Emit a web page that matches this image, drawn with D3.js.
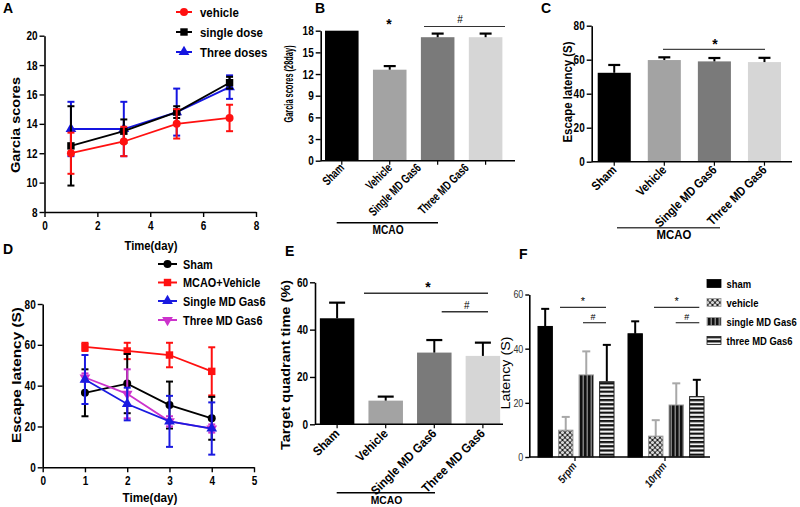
<!DOCTYPE html>
<html><head><meta charset="utf-8">
<script src="https://cdn.jsdelivr.net/npm/d3@7"></script>
<style>
body{margin:0;background:#fff}
svg{font-family:"Liberation Sans",Arial,sans-serif;font-weight:bold}
</style></head><body>
<svg id="c" width="800" height="507"></svg>
<script>
// ---------- DATA ----------
// Panel A
const daysA = [1, 3, 5, 7];
const aVehicle = [12.0, 12.8, 14.0, 14.4];
const aVehicleErr = [1.4, 1.0, 1.0, 0.9];
const aSingle = [12.5, 13.5, 14.8, 16.8];
const aSingleErr = [2.7, 0.8, 0.4, 0.4];
const aThree = [13.65, 13.65, 14.8, 16.5];
const aThreeErr = [1.85, 1.85, 1.6, 0.8];
const aXTicks = [0, 2, 4, 6, 8];
const aYTicks = [8, 10, 12, 14, 16, 18, 20];
const aLegend = ["vehicle", "single dose", "Three doses"];

// Panel B
const groupCats = ["Sham", "Vehicle", "Single MD Gas6", "Three MD Gas6"];
const bVals = [18, 12.6, 17.1, 17.1];
const bErr = [0, 0.5, 0.5, 0.5];
const bYTicks = [0, 3, 6, 9, 12, 15, 18];

// Panel C
const cVals = [52.3, 59.8, 59.0, 58.6];
const cErr = [4.6, 1.6, 2.0, 2.5];
const cYTicks = [0, 20, 40, 60, 80];

// Panel D
const daysD = [1, 2, 3, 4];
const dSham = [36.5, 41, 30.5, 24];
const dShamErr = [11.5, 14.5, 11.5, 10.5];
const dVehicle = [59, 57, 55, 47];
const dVehicleErr = [2, 4, 6, 11.8];
const dSingle = [43, 31, 22.5, 19];
const dSingleErr = [12, 8, 12.5, 12.8];
const dThree = [44, 36, 22.5, 19];
const dThreeErr = [2, 12, 2.5, 2];
const dXTicks = [0, 1, 2, 3, 4, 5];
const dYTicks = [0, 20, 40, 60, 80];
const dLegend = ["Sham", "MCAO+Vehicle", "Single MD Gas6", "Three MD Gas6"];

// Panel E
const eVals = [44.8, 10.0, 30.3, 28.9];
const eErr = [6.6, 1.7, 5.3, 5.6];
const eYTicks = [0, 20, 40, 60];

// Panel F
const fGroups = ["5rpm", "10rpm"];
const fSeries = ["sham", "vehicle", "single MD Gas6", "three MD Gas6"];
const fVals = [[48.2, 9.9, 30.3, 27.8], [45.5, 7.7, 19.2, 22.3]];
const fErr = [[6.5, 4.9, 8.7, 13.6], [4.6, 5.9, 8.0, 6.2]];
const fYTicks = [0, 20, 40, 60];

// ---------- DRAW ----------
const svg = d3.select("#c");
const defs = svg.append("defs");

function txt(s, x, y, fs, opt) {
  opt = opt || {};
  const t = svg.append("text").text(s).attr("font-size", fs)
    .attr("text-anchor", opt.anchor || "middle")
    .attr("font-weight", opt.weight || "bold")
    .attr("fill", opt.fill || "#000")
    .attr("transform", `translate(${x},${y}) rotate(${opt.rot || 0}) scale(${opt.sx || 1},1)`);
  if (opt.len) t.attr("textLength", opt.len).attr("lengthAdjust", "spacingAndGlyphs");
  if (opt.italic) t.attr("font-style", "italic");
  return t;
}
function styleAxis(g, fs, sx, weight, color, left) {
  g.attr("font-family", null).attr("font-size", null);
  g.selectAll(".domain").attr("stroke", "#000").attr("stroke-width", 1.6);
  g.selectAll(".tick line").attr("stroke", "#000").attr("stroke-width", 1.4);
  g.selectAll(".tick text").attr("font-size", fs).attr("font-weight", weight || "bold")
    .attr("fill", color || "#000")
    .each(function () {
      const el = d3.select(this);
      if (left) { const x = +el.attr("x"); el.attr("x", x / sx); }
      el.attr("transform", `scale(${sx},1)`);
    });
}
function panelLetter(t, x, y) {
  svg.append("text").text(t).attr("x", x).attr("y", y).attr("font-size", 14).attr("font-weight", "bold");
}
const sym = {
  circle: d3.symbol().type(d3.symbolCircle).size(50)(),
  square: d3.symbol().type(d3.symbolSquare).size(55)(),
  tri: d3.symbol().type(d3.symbolTriangle).size(50)(),
  triDown: d3.symbol().type(d3.symbolTriangle).size(50)()
};
function lineSeries(xs, ys, es, x, y, color, shape, capW) {
  const g = svg.append("g");
  xs.forEach((d, i) => {
    const cx = x(d), y1 = y(ys[i] - es[i]), y2 = y(ys[i] + es[i]);
    g.append("line").attr("x1", cx).attr("x2", cx).attr("y1", y1).attr("y2", y2)
      .attr("stroke", color).attr("stroke-width", 2);
    [y1, y2].forEach(yy => g.append("line").attr("x1", cx - capW).attr("x2", cx + capW)
      .attr("y1", yy).attr("y2", yy).attr("stroke", color).attr("stroke-width", 2));
  });
  g.append("path").datum(xs.map((d, i) => [d, ys[i]]))
    .attr("d", d3.line().x(d => x(d[0])).y(d => y(d[1])))
    .attr("fill", "none").attr("stroke", color).attr("stroke-width", 1.8);
  xs.forEach((d, i) => {
    g.append("path").attr("d", sym[shape]).attr("fill", color)
      .attr("transform", `translate(${x(d)},${y(ys[i])})${shape === "triDown" ? " rotate(180)" : ""}`);
  });
}
function legendItem(x0, x1, yy, color, shape, s, tx, fs, sx) {
  svg.append("line").attr("x1", x0).attr("x2", x1).attr("y1", yy).attr("y2", yy)
    .attr("stroke", color).attr("stroke-width", 2);
  svg.append("path").attr("d", sym[shape]).attr("fill", color)
    .attr("transform", `translate(${(x0 + x1) / 2},${yy})${shape === "triDown" ? " rotate(180)" : ""}`);
  txt(s, tx, yy + 4.5, fs, { anchor: "start", sx: sx });
}
function hline(x1, x2, y, col, w) {
  svg.append("line").attr("x1", x1).attr("x2", x2).attr("y1", y).attr("y2", y)
    .attr("stroke", col || "#000").attr("stroke-width", w || 1.4);
}

// ===== Panel A =====
panelLetter("A", 3, 13);
const xA = d3.scaleLinear().domain([0, 8]).range([44.5, 256]);
const yA = d3.scaleLinear().domain([8, 20]).range([212, 35.7]);
styleAxis(svg.append("g").attr("transform", "translate(0,212)")
  .call(d3.axisBottom(xA).tickValues(aXTicks).tickSize(5).tickSizeOuter(0).tickPadding(4)), 12.5, 0.8);
styleAxis(svg.append("g").attr("transform", "translate(44.5,0)")
  .call(d3.axisLeft(yA).tickValues(aYTicks).tickSize(5).tickSizeOuter(0).tickPadding(2)), 12.5, 0.8, null, null, true);
txt("Garcia scores", 20, 125, 13, { rot: -90, len: 96 });
txt("Time(day)", 151, 250, 13, { len: 53 });
lineSeries(daysA, aThree, aThreeErr, xA, yA, "#1515e0", "tri", 3.5);
lineSeries(daysA, aSingle, aSingleErr, xA, yA, "#000", "square", 3.5);
lineSeries(daysA, aVehicle, aVehicleErr, xA, yA, "#ff1010", "circle", 3.5);
legendItem(176, 192, 12, "#ff1010", "circle", aLegend[0], 200, 13, 0.88);
legendItem(176, 192, 32, "#000", "square", aLegend[1], 200, 13, 0.88);
legendItem(176, 192, 52, "#1515e0", "tri", aLegend[2], 200, 13, 0.88);

// ===== Bar panel helper =====
function barPanel(o) {
  const x = d3.scaleBand().domain(o.cats).range(o.xRange).paddingInner(o.pi).paddingOuter(o.po);
  const y = d3.scaleLinear().domain(o.yDomain).range(o.yRange);
  const g = svg.append("g");
  o.cats.forEach((c, i) => {
    g.append("rect").attr("x", x(c)).attr("width", x.bandwidth())
      .attr("y", y(o.vals[i])).attr("height", y(0) - y(o.vals[i])).attr("fill", o.colors[i]);
    if (o.errs[i] > 0) {
      const cx = x(c) + x.bandwidth() / 2, yt = y(o.vals[i] + o.errs[i]);
      g.append("line").attr("x1", cx).attr("x2", cx).attr("y1", y(o.vals[i])).attr("y2", yt)
        .attr("stroke", "#000").attr("stroke-width", 2);
      g.append("line").attr("x1", cx - o.cap).attr("x2", cx + o.cap).attr("y1", yt).attr("y2", yt)
        .attr("stroke", "#000").attr("stroke-width", 2.2);
    }
  });
  const ax0 = o.axisX;
  styleAxis(svg.append("g").attr("transform", `translate(${ax0},0)`)
    .call(d3.axisLeft(y).tickValues(o.yTicks).tickSize(5).tickSizeOuter(0).tickPadding(2)), o.tickFs, 0.8, null, null, true);
  hline(ax0, o.axisEnd, y(0), "#000", 1.6);
  o.cats.forEach((c, i) => {
    const cx = x(c) + x.bandwidth() / 2;
    svg.append("line").attr("x1", cx).attr("x2", cx).attr("y1", y(0)).attr("y2", y(0) + 4)
      .attr("stroke", "#000").attr("stroke-width", 1.2);
    txt(c, cx + 3 + (o.shift ? o.shift[i] : 0), y(0) + o.labelDy, o.catFs, { rot: -45, anchor: "end", sx: o.catSx });
  });
  return { x, y };
}

// ===== Panel B =====
panelLetter("B", 315, 13);
barPanel({
  cats: groupCats, vals: bVals, errs: bErr,
  colors: ["#000", "#a3a3a3", "#7a7a7a", "#d6d6d6"],
  axisX: 320.7, xRange: [320.7, 506.7], pi: 0.3, po: 0.09, axisEnd: 515,
  yDomain: [0, 18], yRange: [160.7, 30.7], yTicks: bYTicks, tickFs: 12.5,
  cap: 6, labelDy: 8, catFs: 12.5, catSx: 0.72, shift: [0, 0, -19, -19]
});
txt("Garcia scores (28day)", 293, 84, 12, { rot: -90, sx: 0.62 });
txt("*", 389, 29, 14);
hline(424, 505, 26.5, "#333", 1.2);
txt("#", 460, 23, 10, { weight: "normal" });
hline(336.7, 438, 222.7, "#000", 1.4);
txt("MCAO", 388, 234, 12, { sx: 0.85 });

// ===== Panel C =====
panelLetter("C", 541, 13);
barPanel({
  cats: groupCats, vals: cVals, errs: cErr,
  colors: ["#000", "#a3a3a3", "#7a7a7a", "#d6d6d6"],
  axisX: 591.7, xRange: [591.7, 787], pi: 0.34, po: 0.12, axisEnd: 792,
  yDomain: [0, 80], yRange: [161.7, 25.7], yTicks: cYTicks, tickFs: 12.5,
  cap: 6, labelDy: 9, catFs: 12.5, catSx: 0.86
});
txt("Escape latency (S)", 572, 92, 12.5, { rot: -90, len: 101 });
hline(663, 765, 49.3, "#444", 1.3);
txt("*", 715, 49, 14);
hline(617, 720, 227.7, "#444", 1.4);
txt("MCAO", 674, 239, 12, { sx: 0.95 });

// ===== Panel D =====
panelLetter("D", 3, 254);
const xD = d3.scaleLinear().domain([0, 5]).range([42.7, 254]);
const yD = d3.scaleLinear().domain([0, 80]).range([467.3, 304]);
styleAxis(svg.append("g").attr("transform", "translate(0,467.3)")
  .call(d3.axisBottom(xD).tickValues(dXTicks).tickFormat(d3.format("d")).tickSize(5).tickSizeOuter(0).tickPadding(4)), 12.5, 0.8);
styleAxis(svg.append("g").attr("transform", "translate(42.7,0)")
  .call(d3.axisLeft(yD).tickValues(dYTicks).tickSize(5).tickSizeOuter(0).tickPadding(2)), 12.5, 0.8, null, null, true);
txt("Escape latency (S)", 21, 375, 13, { rot: -90, len: 136 });
txt("Time(day)", 150, 502, 13, { len: 55 });
lineSeries(daysD, dVehicle, dVehicleErr, xD, yD, "#ff1010", "square", 3.5);
lineSeries(daysD, dSham, dShamErr, xD, yD, "#000", "circle", 3.5);
lineSeries(daysD, dThree, dThreeErr, xD, yD, "#cc33cc", "triDown", 3.5);
lineSeries(daysD, dSingle, dSingleErr, xD, yD, "#1a1ae0", "tri", 3.5);
legendItem(158, 177, 264, "#000", "circle", dLegend[0], 183, 13, 0.84);
legendItem(158, 177, 282.5, "#ff1010", "square", dLegend[1], 183, 13, 0.84);
legendItem(158, 177, 301, "#1a1ae0", "tri", dLegend[2], 183, 13, 0.84);
legendItem(158, 177, 320, "#cc33cc", "triDown", dLegend[3], 183, 13, 0.84);

// ===== Panel E =====
panelLetter("E", 285, 256);
barPanel({
  cats: groupCats, vals: eVals, errs: eErr,
  colors: ["#000", "#a3a3a3", "#7a7a7a", "#d6d6d6"],
  axisX: 315, xRange: [315, 505], pi: 0.29, po: 0.1, axisEnd: 503,
  yDomain: [0, 60], yRange: [424.3, 282.3], yTicks: eYTicks, tickFs: 12.5,
  cap: 8, labelDy: 10, catFs: 12.5, catSx: 0.92
});
txt("Target quadrant time (%)", 290, 365, 13, { rot: -90, len: 170 });
hline(364, 488, 293.3, "#333", 1.4);
txt("*", 428, 292, 14);
hline(441.7, 488, 311.7, "#333", 1.4);
txt("#", 466.7, 309, 10, { weight: "normal" });
hline(336.7, 435, 492.7, "#000", 1.4);
txt("MCAO", 386.5, 503.5, 11.5, { sx: 0.9 });

// ===== Panel F =====
panelLetter("F", 519, 259);
const pv = defs.append("pattern").attr("id", "pVeh").attr("patternUnits", "userSpaceOnUse").attr("width", 5).attr("height", 5);
pv.append("rect").attr("width", 5).attr("height", 5).attr("fill", "#1e1e1e");
[[0, 0], [5, 0], [0, 5], [5, 5], [2.5, 2.5]].forEach(p => pv.append("circle").attr("cx", p[0]).attr("cy", p[1]).attr("r", 1.6).attr("fill", "#d8d8d8"));
const ps = defs.append("pattern").attr("id", "pSing").attr("patternUnits", "userSpaceOnUse").attr("width", 4).attr("height", 4);
ps.append("rect").attr("width", 4).attr("height", 4).attr("fill", "#111");
ps.append("rect").attr("x", 2.6).attr("width", 1.2).attr("height", 4).attr("fill", "#9a9a9a");
const pt = defs.append("pattern").attr("id", "pThree").attr("patternUnits", "userSpaceOnUse").attr("width", 4).attr("height", 4.2);
pt.append("rect").attr("width", 4).attr("height", 4.2).attr("fill", "#f2f2f2");
pt.append("rect").attr("width", 4).attr("height", 2.2).attr("fill", "#111");
const fFills = ["#000", "url(#pVeh)", "url(#pSing)", "url(#pThree)"];
const fStroke = ["#000", "#9a9a9a", "#9a9a9a", "#222"];
const fErrCol = ["#000", "#a8a8a8", "#a8a8a8", "#000"];

const xF = d3.scaleBand().domain(fGroups).range([530, 710]);
const xFi = d3.scaleBand().domain(fSeries).range([8, 84]).paddingInner(0.3);
const yF = d3.scaleLinear().domain([0, 60]).range([457, 294.5]);
fGroups.forEach((gname, gi) => {
  fSeries.forEach((s, si) => {
    const x0 = xF(gname) + xFi(s), v = fVals[gi][si], e = fErr[gi][si];
    const cx = x0 + xFi.bandwidth() / 2, yt = yF(v + e);
    svg.append("line").attr("x1", cx).attr("x2", cx).attr("y1", yF(v)).attr("y2", yt)
      .attr("stroke", fErrCol[si]).attr("stroke-width", 2);
    svg.append("line").attr("x1", cx - 4).attr("x2", cx + 4).attr("y1", yt).attr("y2", yt)
      .attr("stroke", fErrCol[si]).attr("stroke-width", 2);
    svg.append("rect").attr("x", x0).attr("width", xFi.bandwidth()).attr("y", yF(v))
      .attr("height", yF(0) - yF(v)).attr("fill", fFills[si])
      .attr("stroke", fStroke[si]).attr("stroke-width", 1);
  });
});
styleAxis(svg.append("g").attr("transform", "translate(529.3,0)")
  .call(d3.axisLeft(yF).tickValues(fYTicks).tickSize(4).tickSizeOuter(0).tickPadding(2)), 10.5, 0.85, "normal", "#333", true);
hline(529.3, 710, yF(0), "#000", 1.6);
fGroups.forEach(gname => {
  const cx = xF(gname) + xF.bandwidth() / 2;
  svg.append("line").attr("x1", cx).attr("x2", cx).attr("y1", yF(0)).attr("y2", yF(0) + 4).attr("stroke", "#000").attr("stroke-width", 1.2);
  txt(gname, cx + 2, yF(0) + 9, 11, { rot: -52, anchor: "end", italic: true, weight: "bold", sx: 0.85, fill: "#111" });
});
txt("Latency (S)", 510, 373, 12, { rot: -90, len: 73, weight: "normal" });
[[560, 606, 583, 583, 606, 593], [654, 699.3, 676.7, 675.7, 699.3, 686.7]].forEach(a => {
  hline(a[0], a[1], 307.3, "#333", 1.2);
  txt("*", a[2], 305, 11, { weight: "normal" });
  hline(a[3], a[4], 322.7, "#333", 1.2);
  txt("#", a[5], 320, 9, { weight: "normal" });
});
const fLegY = [283.5, 302.5, 321.5, 340.5];
fSeries.forEach((s, i) => {
  svg.append("rect").attr("x", 707).attr("y", fLegY[i] - 4).attr("width", 14).attr("height", 8)
    .attr("fill", fFills[i]).attr("stroke", fStroke[i]).attr("stroke-width", 0.8);
  txt(s, 726.5, fLegY[i] + 4, 11.5, { anchor: "start", sx: 0.82 });
});
</script>
</body></html>
